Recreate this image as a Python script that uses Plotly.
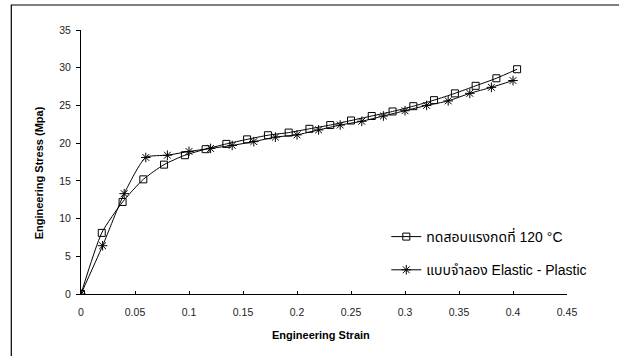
import plotly.graph_objects as go

# Experimental (squares)
exp_strain = [0, 0.0192, 0.0385, 0.0577, 0.0769, 0.0962, 0.1154, 0.1346, 0.1538, 0.1731,
              0.1923, 0.2115, 0.2308, 0.25, 0.2692, 0.2885, 0.3077, 0.3269, 0.3462, 0.3654,
              0.3846, 0.4038]
exp_stress = [0, 8.1, 12.2, 15.2, 17.15, 18.4, 19.2, 19.9, 20.5, 21.05,
              21.4, 21.9, 22.4, 23.0, 23.6, 24.2, 24.9, 25.7, 26.6, 27.6,
              28.6, 29.8]

# Elastic-Plastic model (stars)
model_strain = [0, 0.02, 0.04, 0.06, 0.08, 0.10, 0.12, 0.14, 0.16, 0.18, 0.20,
                0.22, 0.24, 0.26, 0.28, 0.30, 0.32, 0.34, 0.36, 0.38, 0.40]
model_stress = [0, 6.4, 13.3, 18.1, 18.4, 18.9, 19.3, 19.7, 20.2, 20.8, 21.1,
                21.75, 22.4, 22.9, 23.6, 24.3, 25.0, 25.6, 26.6, 27.4, 28.3]

x_ticks = [0, 0.05, 0.1, 0.15, 0.2, 0.25, 0.3, 0.35, 0.4, 0.45]
x_tick_labels = ["0", "0.05", "0.1", "0.15", "0.2", "0.25", "0.3", "0.35", "0.4", "0.45"]
y_ticks = [0, 5, 10, 15, 20, 25, 30, 35]

exp_name = "ทดสอบแรงกดที่ 120 °C"
model_name = "แบบจำลอง Elastic - Plastic"

FONT = "Liberation Sans, Arial, Noto Sans Thai, sans-serif"

fig = go.Figure()
fig.add_trace(go.Scatter(
    x=exp_strain, y=exp_stress, name=exp_name, mode="lines+markers",
    line=dict(color="black", width=1, shape="spline", smoothing=0.6),
    marker=dict(symbol="square-open", size=7, color="black", line=dict(width=1)),
    legendgroup="a",
))
fig.add_trace(go.Scatter(
    x=model_strain, y=model_stress, name=model_name, mode="lines+markers",
    line=dict(color="black", width=1, shape="spline", smoothing=0.6),
    marker=dict(symbol="asterisk-open", size=8, color="black", line=dict(width=1, color="black")),
    legendgroup="b",
))

L, R, T, B = 80.7, 52.3, 30, 62
W, H = 619, 356
pw, ph = W - L - R, H - T - B

def px(xp):
    return (xp - L) / pw

def py(yp):
    return (H - B - yp) / ph

fig.update_layout(
    width=W, height=H,
    margin=dict(l=L, r=R, t=T, b=B, pad=0),
    paper_bgcolor="white", plot_bgcolor="white",
    font=dict(family=FONT, size=10.5, color="black"),
    showlegend=True,
    legend=dict(x=px(386), y=py(221), xanchor="left", yanchor="top",
                bgcolor="rgba(0,0,0,0)", font=dict(size=14, family=FONT, color="black"),
                tracegroupgap=12, itemwidth=30),
    xaxis=dict(range=[0, 0.45], tickvals=x_ticks, ticktext=x_tick_labels,
               showgrid=False, zeroline=False, showline=True, linecolor="black", linewidth=1,
               ticks="inside", ticklen=3, tickcolor="black", tickfont=dict(size=10.5, color="#222"),
               ticklabelstandoff=8, fixedrange=True),
    yaxis=dict(range=[0, 35], tickvals=y_ticks,
               showgrid=False, zeroline=False, showline=True, linecolor="black", linewidth=1,
               ticks="outside", ticklen=4, tickcolor="black", tickfont=dict(size=10.5, color="#222"),
               ticklabelstandoff=3, fixedrange=True),
    shapes=[dict(type="rect", xref="paper", yref="paper",
                 x0=px(11), x1=px(640), y0=py(380), y1=py(5),
                 line=dict(color="black", width=1.2), fillcolor="rgba(0,0,0,0)", layer="below")],
    annotations=[
        dict(text="<b>Engineering Strain</b>", xref="paper", yref="paper",
             x=px(321), y=py(335), showarrow=False, font=dict(size=11, family=FONT),
             xanchor="center", yanchor="middle"),
        dict(text="<b>Engineering Stress (Mpa)</b>", xref="paper", yref="paper",
             x=px(39), y=py(173), showarrow=False, textangle=-90, font=dict(size=11, family=FONT),
             xanchor="center", yanchor="middle"),
    ],
)

fig.write_html("out.html")
